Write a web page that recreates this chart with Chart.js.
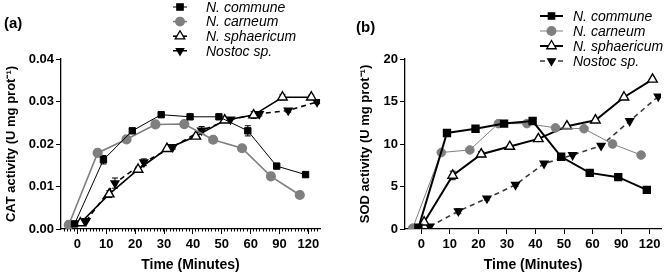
<!DOCTYPE html>
<html>
<head>
<meta charset="utf-8">
<script src="https://cdn.jsdelivr.net/npm/chart.js@4.4.1/dist/chart.umd.min.js"></script>
<style>
  html, body { margin: 0; padding: 0; background: #fff; }
  #wrap { position: relative; width: 668px; height: 277px; overflow: hidden; }
  .panel { position: absolute; top: 0; width: 334px; height: 277px; }
  .tag { position: absolute; font: bold 15px "Liberation Sans", Arial, sans-serif; color: #000; }
</style>
</head>
<body>
<div id="wrap">
  <div class="panel" style="left:0"><canvas id="catChart" width="334" height="277"></canvas></div>
  <div class="panel" style="left:334px"><canvas id="sodChart" width="334" height="277"></canvas></div>
  <div class="tag" style="left:4px;top:14px">(a)</div>
  <div class="tag" style="left:356px;top:18px">(b)</div>
</div>
<script>
const timeLabels = ['0', '10', '20', '30', '40', '50', '60', '90', '120'];
const seriesNames = ['N. commune', 'N. carneum', 'N. sphaericum', 'Nostoc sp.'];

// CAT activity (U mg prot-1)
const catCommune = [0.0012, 0.0163, 0.0231, 0.0269, 0.0264, 0.0264, 0.0231, 0.0148, 0.0128];
const catCarneum = [0.0010, 0.0179, 0.0211, 0.0246, 0.0247, 0.0210, 0.0190, 0.0124, 0.0080];
const catSphaericum = [0.0014, 0.0082, 0.0140, 0.0189, 0.0218, 0.0256, 0.0268, 0.0310, 0.0310];
const catNostoc = [0.0019, 0.0108, 0.0157, 0.0193, 0.0232, 0.0258, 0.0271, 0.0279, 0.0299];
const catCommuneErr = [0, 0.0010, 0.0005, 0, 0, 0, 0.0012, 0, 0];
const catCarneumErr = [0, 0.0007, 0.0007, 0, 0, 0.0007, 0.0007, 0, 0.0007];
const catSphaericumErr = [0, 0.0008, 0.0006, 0, 0, 0, 0.0008, 0.0006, 0.0005];
const catNostocErr = [0, 0.0012, 0.0008, 0.0005, 0.0009, 0, 0.0005, 0.0004, 0.0004];

// SOD activity (U mg prot-1)
const sodCommune = [0.15, 11.3, 11.8, 12.4, 12.7, 8.5, 6.6, 6.1, 4.6];
const sodCarneum = [0.1, 9.0, 9.3, 12.4, 12.4, 11.9, 11.8, 10.0, 8.7];
const sodSphaericum = [0.8, 6.3, 8.8, 9.7, 10.6, 12.1, 12.8, 15.5, 17.6];
const sodNostoc = [0.3, 2.1, 3.6, 5.2, 7.7, 8.7, 9.8, 12.7, 15.6];
const sodCommuneErr = [0, 0, 0, 0, 0, 0, 0, 0, 0];
const sodCarneumErr = [0, 0, 0, 0, 0, 0, 0, 0.4, 0];
const sodSphaericumErr = [0, 0.5, 0.3, 0, 0, 0, 0, 0, 0];
const sodNostocErr = [0, 0.3, 0.2, 0.2, 0, 0, 0, 0, 0];

const FONT = '"Liberation Sans", Arial, sans-serif';
const GREY = '#7f7f7f';
// small horizontal shift of each series so the points don't overlap
const shift = [-0.1, -0.3, 0.1, 0.3];

function points(values, k) {
    return values.map((v, i) => ({ x: i + shift[k], y: v }));
}

// error bars, drawn under the markers
const errorBars = {
    id: 'errorBars',
    beforeDatasetsDraw(chart) {
        const ctx = chart.ctx;
        const ys = chart.scales.y;
        chart.data.datasets.forEach((ds, k) => {
            const meta = chart.getDatasetMeta(k);
            ctx.save();
            ctx.strokeStyle = ds.borderColor;
            ctx.lineWidth = 1;
            meta.data.forEach((pt, i) => {
                const e = ds.errors[i];
                if (!e) return;
                const top = ys.getPixelForValue(ds.data[i].y + e);
                const bot = ys.getPixelForValue(ds.data[i].y - e);
                ctx.beginPath();
                ctx.moveTo(pt.x, top); ctx.lineTo(pt.x, bot);
                ctx.moveTo(pt.x - 3, top); ctx.lineTo(pt.x + 3, top);
                ctx.moveTo(pt.x - 3, bot); ctx.lineTo(pt.x + 3, bot);
                ctx.stroke();
            });
            ctx.restore();
        });
    }
};

// legend drawn by hand so it can sit where the original has it
const legendBox = {
    id: 'legendBox',
    afterDraw(chart, args, opts) {
        const ctx = chart.ctx;
        ctx.save();
        chart.data.datasets.forEach((ds, k) => {
            const y = opts.y + k * opts.step;
            ctx.strokeStyle = ds.borderColor;
            ctx.lineWidth = ds.borderWidth;
            ctx.setLineDash(ds.borderDash || []);
            ctx.beginPath();
            ctx.moveTo(opts.x, y);
            ctx.lineTo(opts.x + opts.len, y);
            ctx.stroke();
            ctx.setLineDash([]);
            ctx.fillStyle = ds.pointBackgroundColor;
            ctx.strokeStyle = ds.pointBorderColor;
            ctx.lineWidth = 1.3;
            Chart.helpers.drawPoint(ctx, {
                pointStyle: ds.pointStyle,
                radius: ds.pointRadius,
                rotation: ds.pointRotation || 0,
                borderWidth: 1.3
            }, opts.x + opts.len / 2, y);
            ctx.fillStyle = '#000';
            ctx.font = 'italic 14px ' + FONT;
            ctx.textBaseline = 'middle';
            ctx.fillText(seriesNames[k], opts.textX, y + 1);
        });
        ctx.restore();
    }
};

// minor ticks along the time axis of panel (a)
const minorTicks = {
    id: 'minorTicks',
    afterDraw(chart, args, opts) {
        if (!opts.on) return;
        const xs = chart.scales.x;
        const ctx = chart.ctx;
        const y0 = chart.chartArea.bottom;
        ctx.save();
        ctx.strokeStyle = '#000';
        ctx.lineWidth = 1;
        ctx.beginPath();
        for (let v = xs.min + 0.1; v < xs.max; v += 0.111) {
            const px = Math.round(xs.getPixelForValue(v)) + 0.5;
            ctx.moveTo(px, y0);
            ctx.lineTo(px, y0 + 2.5);
        }
        ctx.stroke();
        ctx.restore();
    }
};

function buildDatasets(vals, errs, style) {
    return [
        {
            label: seriesNames[0], data: points(vals[0], 0), errors: errs[0],
            borderColor: '#000', borderWidth: style.communeW,
            pointStyle: 'rect', pointRadius: 4.5, pointBackgroundColor: '#000', pointBorderColor: '#000'
        },
        {
            label: seriesNames[1], data: points(vals[1], 1), errors: errs[1],
            borderColor: GREY, borderWidth: style.carneumW,
            pointStyle: 'circle', pointRadius: 4.3, pointBackgroundColor: GREY, pointBorderColor: GREY
        },
        {
            label: seriesNames[2], data: points(vals[2], 2), errors: errs[2],
            borderColor: '#000', borderWidth: style.sphaericumW,
            pointStyle: 'triangle', pointRadius: 5.5, pointBackgroundColor: '#fff', pointBorderColor: '#000',
            pointBorderWidth: 1.4
        },
        {
            label: seriesNames[3], data: points(vals[3], 3), errors: errs[3],
            borderColor: style.nostocColor, borderWidth: 1.6, borderDash: [5, 4],
            pointStyle: 'triangle', pointRotation: 180, pointRadius: 4.3,
            pointBackgroundColor: '#000', pointBorderColor: '#000'
        }
    ];
}

function makeChart(canvasId, cfg) {
    return new Chart(document.getElementById(canvasId), {
        type: 'line',
        data: { datasets: buildDatasets(cfg.values, cfg.errors, cfg.style) },
        options: {
            responsive: false,
            animation: false,
            layout: { padding: { top: 59, right: cfg.padRight, left: 0, bottom: 0 } },
            elements: { line: { tension: 0 } },
            plugins: {
                legend: { display: false },
                tooltip: { enabled: false },
                legendBox: cfg.legend,
                minorTicks: { on: cfg.minor }
            },
            scales: {
                x: {
                    type: 'linear', min: -0.57, max: 8.4,
                    afterBuildTicks: s => { s.ticks = timeLabels.map((t, i) => ({ value: i })); },
                    afterFit: s => { s.height = 48; },
                    ticks: {
                        callback: v => timeLabels[v],
                        color: '#000', font: { family: FONT, size: 13, weight: 'bold' }, padding: 3,
                        maxRotation: 0, autoSkip: false
                    },
                    grid: { drawOnChartArea: false, drawTicks: true, tickLength: 5, color: '#000', tickWidth: 1 },
                    border: { color: '#000', width: 1.3 },
                    title: {
                        display: true, text: 'Time (Minutes)', color: '#000',
                        font: { family: FONT, size: 14, weight: 'bold' }, padding: { top: 2, bottom: 3 }
                    }
                },
                y: {
                    min: 0, max: cfg.yMax,
                    afterFit: s => { s.width = cfg.yWidth; },
                    ticks: {
                        stepSize: cfg.yStep,
                        callback: cfg.yFormat,
                        color: '#000', font: { family: FONT, size: 13, weight: 'bold' }, padding: 2
                    },
                    grid: { drawOnChartArea: false, drawTicks: true, tickLength: 5, color: '#000', tickWidth: 1 },
                    border: { color: '#000', width: 1.3 },
                    title: {
                        display: true, text: cfg.yTitle, color: '#000',
                        font: { family: FONT, size: 13, weight: 'bold' }, padding: { top: cfg.titlePad, bottom: 0 }
                    }
                }
            }
        },
        plugins: [errorBars, legendBox, minorTicks]
    });
}

makeChart('catChart', {
    values: [catCommune, catCarneum, catSphaericum, catNostoc],
    errors: [catCommuneErr, catCarneumErr, catSphaericumErr, catNostocErr],
    style: { communeW: 1, carneumW: 1.6, sphaericumW: 1.6, nostocColor: '#000' },
    yMax: 0.04, yStep: 0.01, yFormat: v => v.toFixed(2),
    yTitle: 'CAT activity (U mg prot\u207B\u00B9)', yWidth: 61, titlePad: 4, padRight: 14, minor: true,
    legend: { x: 173, len: 14, textX: 206, y: 7, step: 14.6 }
});

makeChart('sodChart', {
    values: [sodCommune, sodCarneum, sodSphaericum, sodNostoc],
    errors: [sodCommuneErr, sodCarneumErr, sodSphaericumErr, sodNostocErr],
    style: { communeW: 2, carneumW: 1, sphaericumW: 2, nostocColor: '#3a3a3a' },
    yMax: 20, yStep: 5, yFormat: v => v,
    yTitle: 'SOD activity (U mg prot\u207B\u00B9)', yWidth: 71, titlePad: 24, padRight: 4, minor: false,
    legend: { x: 206, len: 23, textX: 239, y: 16, step: 15 }
});
</script>
</body>
</html>
